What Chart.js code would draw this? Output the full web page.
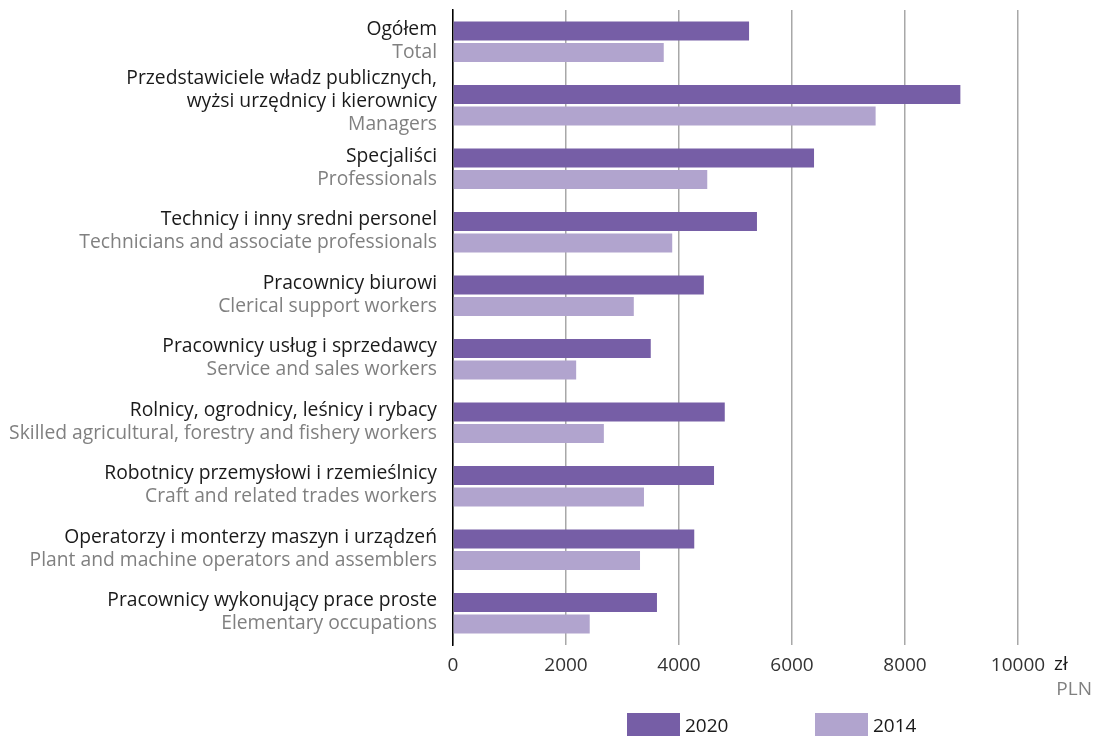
<!DOCTYPE html>
<html>
<head>
<meta charset="utf-8">
<script src="https://cdn.jsdelivr.net/npm/chart.js@4/dist/chart.umd.min.js"></script>
<style>
  html, body { margin: 0; padding: 0; background: #fff; }
  #wrap { width: 1093px; height: 736px; }
</style>
</head>
<body>
<div id="wrap"><canvas id="chart"></canvas></div>
<script>
// kategorie: linie po polsku + linia po angielsku
const plLabels = [
  ["Ogółem"],
  ["Przedstawiciele władz publicznych,", "wyżsi urzędnicy i kierownicy"],
  ["Specjaliści"],
  ["Technicy i inny sredni personel"],
  ["Pracownicy biurowi"],
  ["Pracownicy usług i sprzedawcy"],
  ["Rolnicy, ogrodnicy, leśnicy i rybacy"],
  ["Robotnicy przemysłowi i rzemieślnicy"],
  ["Operatorzy i monterzy maszyn i urządzeń"],
  ["Pracownicy wykonujący prace proste"]
];
const enLabels = [
  "Total",
  "Managers",
  "Professionals",
  "Technicians and associate professionals",
  "Clerical support workers",
  "Service and sales workers",
  "Skilled agricultural, forestry and fishery workers",
  "Craft and related trades workers",
  "Plant and machine operators and assemblers",
  "Elementary occupations"
];
const values2020 = [5240, 8980, 6390, 5380, 4440, 3500, 4810, 4620, 4270, 3610];
const values2014 = [3730, 7480, 4500, 3880, 3200, 2180, 2670, 3380, 3310, 2420];
const xTicks = [0, 2000, 4000, 6000, 8000, 10000];

const FONT = "'Open Sans', sans-serif";
const DARK = "#765ea6";
const LIGHT = "#b1a4ce";

const labelsPlugin = {
  id: "twoLangLabels",
  afterDraw(chart) {
    const { ctx, scales } = chart;
    const y = scales.y, x = scales.x;
    ctx.save();
    ctx.textAlign = "right";
    ctx.textBaseline = "middle";
    ctx.font = "19.3px " + FONT;
    const right = x.left - 16;
    plLabels.forEach((pl, i) => {
      const c = y.getPixelForValue(i);
      const lines = pl.concat([enLabels[i]]);
      const n = lines.length;
      const shift = n > 2 ? -3 : 0;
      lines.forEach((t, j) => {
        ctx.fillStyle = j === n - 1 ? "#808080" : "#1a1a1a";
        ctx.fillText(t, right, c + (j - (n - 1) / 2) * 23 + shift - 1);
      });
    });

    // jednostka przy osi
    const px = x.getPixelForValue(10000);
    ctx.font = "19px " + FONT;
    ctx.textAlign = "left";
    ctx.fillStyle = "#1a1a1a";
    ctx.fillText("zł", px + 36, x.top + 20);
    ctx.textAlign = "right";
    ctx.fillStyle = "#808080";
    ctx.fillText("PLN", 1092, x.top + 45);

    // legenda
    const ds = chart.data.datasets;
    const legendX = [627, 815];
    ds.forEach((d, i) => {
      ctx.fillStyle = d.backgroundColor;
      ctx.fillRect(legendX[i], 713, 53, 24);
      ctx.fillStyle = "#1a1a1a";
      ctx.textAlign = "left";
      ctx.fillText(d.label, legendX[i] + 58, 727);
    });
    ctx.restore();
  }
};

new Chart(document.getElementById("chart"), {
  type: "bar",
  data: {
    labels: enLabels,
    datasets: [
      { label: "2020", data: values2020, backgroundColor: DARK, categoryPercentage: 0.68, barPercentage: 0.88 },
      { label: "2014", data: values2014, backgroundColor: LIGHT, categoryPercentage: 0.68, barPercentage: 0.88 }
    ]
  },
  options: {
    indexAxis: "y",
    responsive: true,
    maintainAspectRatio: false,
    animation: false,
    layout: { padding: { top: 10, right: 75, left: 0, bottom: 0 } },
    scales: {
      x: {
        min: 0,
        max: 10000,
        afterBuildTicks: s => { s.ticks = xTicks.map(v => ({ value: v })); },
        afterFit: s => { s.height = 91; },
        grid: { color: "#a8a8a8", lineWidth: 1.5, drawTicks: false },
        border: { display: false },
        ticks: {
          color: "#333",
          padding: 9,
          font: { family: FONT, size: 19 },
          callback: v => String(v)
        }
      },
      y: {
        afterFit: s => { s.width = 453; },
        grid: { display: false, drawTicks: false },
        border: { display: true, color: "#000", width: 1.5 },
        ticks: { display: false }
      }
    },
    plugins: {
      legend: { display: false },
      tooltip: { enabled: false }
    }
  },
  plugins: [labelsPlugin]
});
</script>
</body>
</html>
